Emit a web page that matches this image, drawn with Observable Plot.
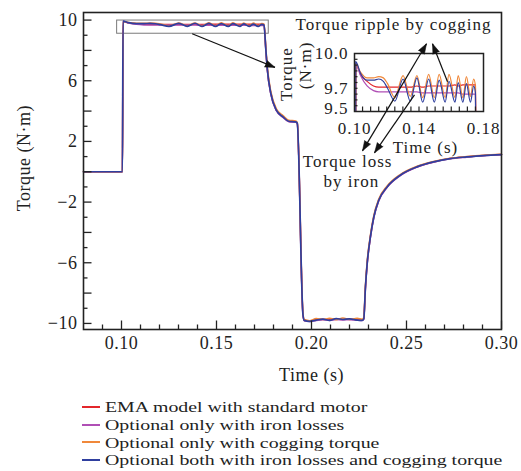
<!DOCTYPE html>
<html><head><meta charset="utf-8">
<script src="https://cdn.jsdelivr.net/npm/d3@7"></script>
<script src="https://cdn.jsdelivr.net/npm/@observablehq/plot@0.6"></script>
<style>
html,body{margin:0;padding:0;background:#fff;}
#wrap{position:relative;width:521px;height:471px;overflow:hidden;background:#fff;font-family:"Liberation Serif","Times New Roman",serif;color:#222;}
#main{position:absolute;left:0;top:0;}
#inset{position:absolute;left:274px;top:8px;}
#legend{position:absolute;left:82px;top:398px;font-size:15.5px;line-height:17.8px;}
.row{display:flex;align-items:center;height:17.8px;white-space:nowrap;}
.sw{width:18px;height:2px;margin-right:5px;flex:none;}
.tx{display:inline-block;transform:scaleX(1.28);transform-origin:left center;}
</style></head>
<body><div id="wrap"><div id="main"></div><div id="inset"></div><div id="legend"></div></div>
<script>
// ---- data ----
const time = [0.0800, 0.1005, 0.1008, 0.1037, 0.1078, 0.1118, 0.1150, 0.1179, 0.1205, 0.1250, 0.1301, 0.1346, 0.1387, 0.1423, 0.1460, 0.1495, 0.1525, 0.1562, 0.1586, 0.1623, 0.1643, 0.1672, 0.1694, 0.1719, 0.1739, 0.1750, 0.1760, 0.1768, 0.1786, 0.1815, 0.1850, 0.1880, 0.1917, 0.1925, 0.1955, 0.1962, 0.1990, 0.2025, 0.2060, 0.2095, 0.2130, 0.2165, 0.2200, 0.2240, 0.2267, 0.2275, 0.2284, 0.2293, 0.2310, 0.2328, 0.2354, 0.2398, 0.2467, 0.2555, 0.2642, 0.2730, 0.2817, 0.2905, 0.3000];
const emaStandard = [0, 0,
  9.91, 9.82, 9.76, 9.72, 9.71, 9.71, 9.71, 9.71, 9.71, 9.71, 9.72, 9.71, 9.72, 9.72, 9.72, 9.72, 9.72, 9.73, 9.72, 9.73, 9.73, 9.73, 9.73, 9.73,
  8.00, 6.70, 5.16, 4.06, 3.62, 3.33, 3.29, 3.20, -9.40, -9.80, -9.84, -9.76, -9.72, -9.76, -9.70, -9.73, -9.71, -9.75, -9.77, -9.69, -7.60, -6.06, -4.30, -2.98, -1.88, -1.00, -0.23, 0.32, 0.65, 0.87, 0.98, 1.07, 1.14];
const ironOnly = [0, 0,
  9.91, 9.81, 9.72, 9.68, 9.67, 9.67, 9.67, 9.67, 9.67, 9.67, 9.67, 9.66, 9.66, 9.66, 9.66, 9.66, 9.66, 9.66, 9.66, 9.65, 9.65, 9.65, 9.65, 9.65,
  7.95, 6.65, 5.12, 4.02, 3.58, 3.30, 3.26, 3.17, -9.43, -9.83, -9.88, -9.80, -9.76, -9.80, -9.74, -9.77, -9.75, -9.79, -9.81, -9.72, -7.65, -6.10, -4.34, -3.02, -1.92, -1.03, -0.26, 0.30, 0.63, 0.85, 0.96, 1.05, 1.12];
const coggingOnly = [0, 0,
  9.91, 9.84, 9.79, 9.79, 9.80, 9.79, 9.74, 9.62, 9.81, 9.63, 9.81, 9.62, 9.82, 9.62, 9.82, 9.62, 9.82, 9.62, 9.81, 9.62, 9.80, 9.63, 9.78, 9.72,
  8.10, 6.85, 5.30, 4.15, 3.70, 3.40, 3.35, 3.25, -9.30, -9.74, -9.82, -9.68, -9.74, -9.66, -9.76, -9.64, -9.74, -9.66, -9.72, -9.62, -7.45, -5.90, -4.18, -2.88, -1.80, -0.94, -0.18, 0.36, 0.68, 0.89, 1.00, 1.09, 1.16];
const ironAndCogging = [0, 0,
  9.93, 9.83, 9.77, 9.77, 9.78, 9.76, 9.70, 9.59, 9.78, 9.59, 9.79, 9.58, 9.78, 9.58, 9.77, 9.58, 9.76, 9.58, 9.75, 9.58, 9.74, 9.58, 9.72, 9.66,
  8.00, 6.70, 5.16, 4.06, 3.62, 3.33, 3.29, 3.20, -9.40, -9.80, -9.86, -9.78, -9.72, -9.80, -9.68, -9.74, -9.70, -9.78, -9.80, -9.70, -7.60, -6.06, -4.30, -2.98, -1.88, -1.00, -0.23, 0.32, 0.65, 0.87, 0.98, 1.07, 1.13];

const seriesNames = ["EMA model with standard motor", "Optional only with iron losses", "Optional only with cogging torque", "Optional both with iron losses and cogging torque"];
const seriesColors = ["#e3262b", "#b04fb5", "#f0883a", "#2f3f9f"];
const seriesValues = [emaStandard, ironOnly, coggingOnly, ironAndCogging];

const xTickLabels = [0.10, 0.15, 0.20, 0.25, 0.30];
const xMinorTicks = [0.09, 0.11, 0.12, 0.13, 0.14, 0.16, 0.17, 0.18, 0.19, 0.21, 0.22, 0.23, 0.24, 0.26, 0.27, 0.28, 0.29];
const yTickLabels = [10, 6, 2, -2, -6, -10];
const yMajorTicks = [-10, -8, -6, -4, -2, 0, 2, 4, 6, 8, 10];
const yMinorTicks = [-9, -7, -5, -3, -1, 1, 3, 5, 7, 9];
const insetXTickLabels = [0.10, 0.14, 0.18];
const insetXTicks = [0.105, 0.11, 0.115, 0.12, 0.125, 0.13, 0.135, 0.14, 0.145, 0.15, 0.155, 0.16, 0.165, 0.17, 0.175];
const insetYTickLabelsUpper = [10.0, 9.7];
const insetYTickLabelsLower = [9.5];
const insetYTicks = [9.55, 9.6, 9.65, 9.7, 9.75, 9.8, 9.85, 9.9, 9.95];

// ---- layout ----
const font = '"Liberation Serif","Times New Roman",serif';
const M = {w: 521, h: 390, l: 83, r: 20, t: 12, b: 61};
const xDom = [0.08, 0.30], yDom = [-10.4, 10.5];
const kx = (M.w - M.l - M.r) / (xDom[1] - xDom[0]);
const ky = (M.h - M.t - M.b) / (yDom[1] - yDom[0]);
const I = {w: 229, h: 188, l: 80, r: 20, t: 45, b: 85};
const ixDom = [0.10, 0.18], iyDom = [9.5, 10.0];
const ikx = (I.w - I.l - I.r) / (ixDom[1] - ixDom[0]);
const iky = (I.h - I.t - I.b) / (iyDom[1] - iyDom[0]);

const rows = seriesNames.map((name, i) => time.map((t, j) => ({series: name, t, v: seriesValues[i][j]})));

function head(a, kX, kY) {
  return {x: a.x2, y: a.y2, rotate: Math.atan2((a.x2 - a.x1) * kX, (a.y2 - a.y1) * kY) * 180 / Math.PI};
}
const fmtSigned = d => d < 0 ? "\u2212" + Math.abs(d) : String(d);

// annotation geometry (main plot data units)
const zoomBox = [{x1: 0.0977, x2: 0.1775, y1: 9.10, y2: 9.97}];
const mainArrow = [{x1: 0.1372, y1: 9.10, x2: 0.1808, y2: 6.88}];

const mainMarks = [
  Plot.rect(zoomBox, {x1: "x1", x2: "x2", y1: "y1", y2: "y2", stroke: "#7a7a7a", strokeWidth: 1, fill: "none"}),
  ...rows.map((r, i) => Plot.line(r, {x: "t", y: "v", stroke: seriesColors[i], strokeWidth: i === 3 ? 1.7 : 1.5, curve: "monotone-x"})),
  Plot.ruleX(xMinorTicks, {x: d => d, y1: yDom[0], y2: yDom[0] + 4.5 / ky, stroke: "#222", strokeWidth: 1.3}),
  Plot.ruleX(xTickLabels, {x: d => d, y1: yDom[0], y2: yDom[0] + 8.5 / ky, stroke: "#222", strokeWidth: 1.3}),
  Plot.ruleY(yMinorTicks, {y: d => d, x1: xDom[0], x2: xDom[0] + 4.5 / kx, stroke: "#222", strokeWidth: 1.3}),
  Plot.ruleY(yMajorTicks, {y: d => d, x1: xDom[0], x2: xDom[0] + 8.5 / kx, stroke: "#222", strokeWidth: 1.3}),
  Plot.frame({stroke: "#222", strokeWidth: 1.6}),
  Plot.text(xTickLabels, {x: d => d, y: yDom[0], dy: 14, text: d => d3.format(".2f")(d), fill: "#222"}),
  Plot.text(yTickLabels, {x: xDom[0], y: d => d, dx: -6, textAnchor: "end", text: fmtSigned, fill: "#222"}),
  Plot.text(["Time (s)"], {x: 0.20, y: yDom[0], dy: 46, text: d => d, fill: "#222"}),
  Plot.text(["Torque (N\u00b7m)"], {x: xDom[0], y: 0.9, dx: -59, rotate: -90, text: d => d, fill: "#222"}),
  Plot.link(mainArrow, {x1: "x1", y1: "y1", x2: "x2", y2: "y2", stroke: "#111", strokeWidth: 1.2}),
  Plot.vector(mainArrow.map(a => head(a, kx, ky)), {x: "x", y: "y", rotate: "rotate", length: 10, r: 3.5, shape: "spike", anchor: "end", fill: "#111", stroke: "#111", strokeWidth: 0.5})
];

const mainPlot = Plot.plot({
  width: M.w, height: M.h, marginLeft: M.l, marginRight: M.r, marginTop: M.t, marginBottom: M.b,
  x: {domain: xDom, axis: null},
  y: {domain: yDom, axis: null},
  style: {fontFamily: font, fontSize: "18px", letterSpacing: "0.5px", background: "white", color: "#222", overflow: "visible"},
  marks: mainMarks
});
document.getElementById("main").appendChild(mainPlot);

// ---- inset ----
const doubleArrow = {x1: 0.10496, y1: 9.161, x2: 0.14465, y2: 10.084};
const insetArrows = [
  {x1: 0.12480, y1: 9.62, x2: doubleArrow.x1, y2: doubleArrow.y1},
  {x1: 0.12480, y1: 9.62, x2: doubleArrow.x2, y2: doubleArrow.y2},
  {x1: 0.13721, y1: 9.644, x2: 0.11240, y2: 9.144},
  {x1: 0.15767, y1: 9.756, x2: 0.14837, y2: 10.084}
];

const insetPlot = Plot.plot({
  width: I.w, height: I.h, marginLeft: I.l, marginRight: I.r, marginTop: I.t, marginBottom: I.b,
  x: {domain: ixDom, axis: null},
  y: {domain: iyDom, axis: null},
  style: {fontFamily: font, fontSize: "17px", letterSpacing: "1px", background: "transparent", color: "#222", overflow: "visible"},
  marks: [
    Plot.frame({fill: "white", stroke: "none"}),
    ...rows.map((r, i) => Plot.line(r, {x: "t", y: "v", stroke: seriesColors[i], strokeWidth: 1.2, curve: "monotone-x", clip: true})),
    Plot.ruleX(insetXTicks, {x: d => d, y1: iyDom[0], y2: iyDom[0] + 4.5 / iky, stroke: "#222", strokeWidth: 1.2}),
    Plot.ruleY(insetYTicks, {y: d => d, x1: ixDom[0], x2: ixDom[0] + 3.5 / ikx, stroke: "#222", strokeWidth: 1.2}),
    Plot.frame({stroke: "#222", strokeWidth: 1.5}),
    Plot.text(insetXTickLabels, {x: d => d, y: iyDom[0], dy: 16.8, text: d => d3.format(".2f")(d), fill: "#222"}),
    Plot.text(insetYTickLabelsUpper, {x: ixDom[0], y: d => d, dx: -6, textAnchor: "end", text: d => d3.format(".1f")(d), fill: "#222"}),
    Plot.text(insetYTickLabelsLower, {x: ixDom[0], y: d => d, dx: -6, dy: -3, textAnchor: "end", text: d => d3.format(".1f")(d), fill: "#222"}),
    Plot.text(["Time (s)"], {x: 0.1440, y: iyDom[0], dy: 36.5, text: d => d, fill: "#222"}),
    Plot.text(["Torque"], {x: ixDom[0], y: 9.823, dx: -68, rotate: -90, text: d => d, fill: "#222"}),
    Plot.text(["(N\u00b7m)"], {x: ixDom[0], y: 9.897, dx: -49, rotate: -90, text: d => d, fill: "#222"}),
    Plot.text(["Torque ripple by cogging"], {x: 0.1242, y: iyDom[1], dy: -28.5, text: d => d, fill: "#222"}),
    Plot.text(["Torque loss"], {x: 0.0957, y: iyDom[0], dy: 50, text: d => d, fill: "#222"}),
    Plot.text(["by iron"], {x: 0.0981, y: iyDom[0], dy: 70.5, text: d => d, fill: "#222"}),
    Plot.link(insetArrows, {x1: "x1", y1: "y1", x2: "x2", y2: "y2", stroke: "#111", strokeWidth: 1.2}),
    Plot.vector(insetArrows.map(a => head(a, ikx, iky)), {x: "x", y: "y", rotate: "rotate", length: 10, r: 3.5, shape: "spike", anchor: "end", fill: "#111", stroke: "#111", strokeWidth: 0.5})
  ]
});
document.getElementById("inset").appendChild(insetPlot);

// ---- legend ----
const legend = document.getElementById("legend");
seriesNames.forEach((name, i) => {
  const row = document.createElement("div");
  row.className = "row";
  const sw = document.createElement("span");
  sw.className = "sw";
  sw.style.background = seriesColors[i];
  const tx = document.createElement("span");
  tx.className = "tx";
  tx.textContent = name;
  row.appendChild(sw); row.appendChild(tx);
  legend.appendChild(row);
});
</script>
</body></html>
